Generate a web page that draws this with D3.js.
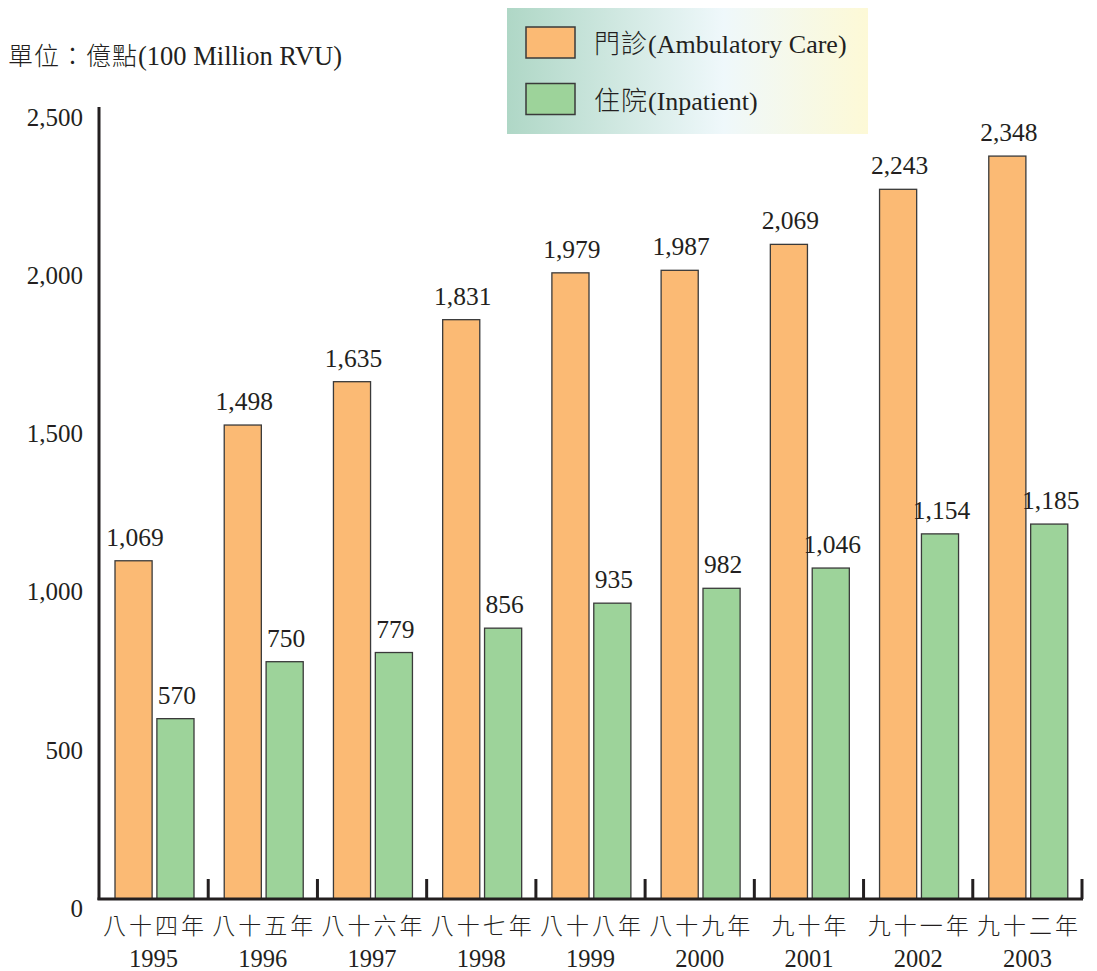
<!DOCTYPE html>
<html><head><meta charset="utf-8">
<script src="https://cdn.jsdelivr.net/npm/d3@7"></script>
<style>body{margin:0;background:#fff}svg{display:block}</style>
</head><body>
<svg id="chart" width="1097" height="971"></svg>
<script>
const years = ["1995","1996","1997","1998","1999","2000","2001","2002","2003"];
const rocYears = ["八十四年","八十五年","八十六年","八十七年","八十八年","八十九年","九十年","九十一年","九十二年"];
const ambulatory = [1069,1498,1635,1831,1979,1987,2069,2243,2348];
const inpatient = [570,750,779,856,935,982,1046,1154,1185];
const seriesZh = ["門診","住院"];
const seriesEn = ["(Ambulatory Care)","(Inpatient)"];
const seriesColors = ["#fbba74","#9dd39a"];
const yTicks = [0,500,1000,1500,2000,2500];
const unitZh = "單位：億點";
const unitEn = "(100 Million RVU)";

const serif = "'Liberation Serif','Times New Roman','Noto Sans CJK TC',serif";
const cjk = "'Noto Sans CJK TC','Noto Sans CJK SC',sans-serif";
const svg = d3.select("#chart");
const y = d3.scaleLinear().domain([0,2500]).range([899,108]);
const x0 = d3.scaleBand().domain(years).range([99,1082]);
const x1 = d3.scaleBand().domain(["a","i"]).range([16,95]).paddingInner(9/79);
const fmt = d3.format(",");

// legend
const defs = svg.append("defs");
const grad = defs.append("linearGradient").attr("id","lg").attr("x1","0").attr("x2","1");
grad.append("stop").attr("offset","0").attr("stop-color","#afd7c6");
grad.append("stop").attr("offset","0.6").attr("stop-color","#eff8fb");
grad.append("stop").attr("offset","1").attr("stop-color","#fdf9d6");
const lg = svg.append("g");
lg.append("rect").attr("x",507).attr("y",8).attr("width",361).attr("height",126).attr("fill","url(#lg)");
seriesZh.forEach((n,i)=>{
  lg.append("rect").attr("x",526).attr("y",27+i*56.5).attr("width",49).attr("height",31)
    .attr("fill",seriesColors[i]).attr("stroke","#3a3a3a").attr("stroke-width",1.5);
  const t = lg.append("text").attr("x",594).attr("y",53+i*56.5).attr("font-size",26).attr("fill","#231f20");
  t.append("tspan").attr("font-family",cjk).attr("font-weight",300).attr("letter-spacing",1).text(n);
  t.append("tspan").attr("font-family",serif).text(seriesEn[i]);
});

// unit label
const ut = svg.append("text").attr("x",8).attr("y",65).attr("fill","#231f20");
ut.append("tspan").attr("font-family",cjk).attr("font-weight",300).attr("font-size",25).attr("letter-spacing",1).text(unitZh);
ut.append("tspan").attr("font-family",serif).attr("font-size",26.5).text(unitEn);

// y tick labels
svg.append("g").selectAll("text").data(yTicks).join("text")
  .attr("x",83).attr("y",d=>y(d)+9).attr("dy","0.35em").attr("text-anchor","end")
  .attr("font-family",serif).attr("font-size",25).attr("fill","#231f20").text(d=>fmt(d));

// bars
const data = years.map((yr,i)=>({yr, vals:[{k:"a",v:ambulatory[i],c:seriesColors[0]},{k:"i",v:inpatient[i],c:seriesColors[1]}]}));
const g = svg.append("g").selectAll("g").data(data).join("g").attr("transform",d=>`translate(${x0(d.yr)},0)`);
g.selectAll("rect").data(d=>d.vals).join("rect")
  .attr("x",d=>x1(d.k)).attr("width",x1.bandwidth())
  .attr("y",d=>y(d.v)).attr("height",d=>y(0)-y(d.v))
  .attr("fill",d=>d.c).attr("stroke","#3a3a3a").attr("stroke-width",1.3);
g.selectAll("text.v").data(d=>d.vals).join("text").attr("class","v")
  .attr("x",d=>x1(d.k)+x1.bandwidth()/2+1.5).attr("y",d=>y(d.v)-15).attr("text-anchor","middle")
  .attr("font-family",serif).attr("font-size",25.5).attr("fill","#231f20").text(d=>fmt(d.v));

// axes
svg.append("line").attr("x1",99).attr("x2",99).attr("y1",107).attr("y2",900).attr("stroke","#231f20").attr("stroke-width",3);
svg.append("line").attr("x1",97.5).attr("x2",1083).attr("y1",899).attr("y2",899).attr("stroke","#231f20").attr("stroke-width",3);
svg.append("g").selectAll("line").data(years).join("line")
  .attr("x1",d=>x0(d)+x0.bandwidth()).attr("x2",d=>x0(d)+x0.bandwidth())
  .attr("y1",879).attr("y2",899).attr("stroke","#231f20").attr("stroke-width",3);

// category labels
const cl = svg.append("g").selectAll("g").data(years).join("g");
cl.append("text").attr("x",(d)=>x0(d)+x0.bandwidth()/2+1.5).attr("y",934).attr("text-anchor","middle")
  .attr("font-family",cjk).attr("font-size",23)
  .attr("font-weight",300).attr("letter-spacing",3).attr("fill","#231f20")
  .text((d,i)=>rocYears[i]);
cl.append("text").attr("x",(d)=>x0(d)+x0.bandwidth()/2).attr("y",967).attr("text-anchor","middle")
  .attr("font-family",serif).attr("font-size",24.5).attr("fill","#231f20").text(d=>d);
</script>
</body></html>
